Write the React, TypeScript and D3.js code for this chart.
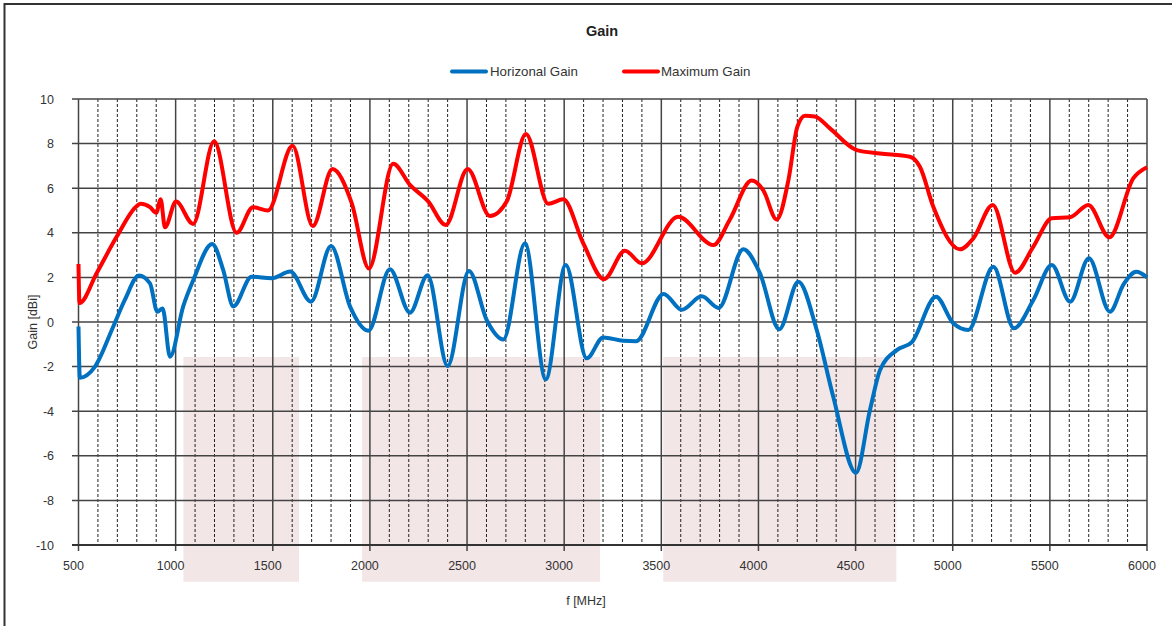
import React from 'react';
import * as d3 from 'd3';

// Horizontal gain (blue) - frequency [MHz] / gain [dBi]
const horizFreq = [500, 507, 585, 679, 739, 811, 868, 906, 933, 971, 1039, 1091, 1188, 1245, 1297, 1391, 1494, 1590, 1697, 1800, 1898, 1992, 2103, 2206, 2297, 2400, 2510, 2601, 2687, 2798, 2905, 3008, 3116, 3201, 3304, 3370, 3512, 3605, 3708, 3795, 3922, 4008, 4107, 4205, 4300, 4385, 4502, 4574, 4626, 4712, 4790, 4914, 5003, 5080, 5209, 5315, 5415, 5510, 5604, 5701, 5809, 5880, 5945, 6000];
const horizGain = [-0.2, -2.5, -2.0, -0.2, 1.0, 2.08, 1.73, 0.46, 0.61, -1.56, 0.7, 1.88, 3.5, 2.33, 0.7, 2.03, 1.96, 2.26, 0.91, 3.41, 0.69, -0.39, 2.37, 0.42, 2.1, -1.97, 2.29, 0.09, -0.78, 3.53, -2.57, 2.56, -1.63, -0.69, -0.84, -0.86, 1.26, 0.55, 1.15, 0.63, 3.26, 2.18, -0.33, 1.81, -0.36, -3.35, -6.76, -3.95, -2.15, -1.26, -0.9, 1.13, -0.06, -0.36, 2.48, -0.28, 0.99, 2.56, 0.91, 2.86, 0.46, 1.7, 2.25, 2.0];

// Maximum gain (red)
const maxFreq = [500, 505, 594, 697, 800, 820, 868, 900, 923, 945, 1002, 1090, 1198, 1314, 1398, 1475, 1602, 1706, 1807, 1906, 1995, 2120, 2206, 2301, 2390, 2503, 2618, 2704, 2803, 2918, 2995, 3098, 3205, 3313, 3399, 3587, 3768, 3853, 3965, 4025, 4094, 4155, 4200, 4240, 4290, 4368, 4506, 4626, 4780, 4831, 4900, 5037, 5106, 5206, 5321, 5415, 5510, 5604, 5698, 5806, 5930, 6000];
const maxGain = [2.6, 0.85, 2.2, 3.83, 5.2, 5.3, 5.15, 4.9, 5.5, 4.25, 5.4, 4.4, 8.1, 4.0, 5.15, 5.0, 7.9, 4.3, 6.86, 5.34, 2.4, 7.1, 6.15, 5.4, 4.35, 6.86, 4.75, 5.4, 8.43, 5.3, 5.5, 3.53, 1.92, 3.2, 2.63, 4.72, 3.45, 4.6, 6.34, 5.9, 4.6, 6.4, 8.75, 9.25, 9.22, 8.68, 7.71, 7.56, 7.41, 6.96, 5.17, 3.26, 3.75, 5.25, 2.21, 3.38, 4.65, 4.7, 5.25, 3.8, 6.45, 6.94];

// shaded frequency bands [MHz]
const bandStart = [1040, 1960, 3510];
const bandEnd = [1635, 3185, 4710];
const bandTop = -1.57;
const bandBottom = -11.65;

const xTicks = [500, 1000, 1500, 2000, 2500, 3000, 3500, 4000, 4500, 5000, 5500, 6000];
const yTicks = [10, 8, 6, 4, 2, 0, -2, -4, -6, -8, -10];

const FONT = '"Liberation Sans", Arial, sans-serif';

export default function App() {
  const x = d3.scaleLinear().domain([500, 6000]).range([78.5, 1147]);
  const y = d3.scaleLinear().domain([-10, 10]).range([545, 99]);

  const minor = d3.range(600, 6000, 100).filter(f => f % 500 !== 0);

  const line = d3
    .line<[number, number]>()
    .x(d => x(d[0]))
    .y(d => y(d[1]))
    .curve(d3.curveMonotoneX);

  const horiz = horizFreq.map((f, i) => [f, horizGain[i]] as [number, number]);
  const maxi = maxFreq.map((f, i) => [f, maxGain[i]] as [number, number]);

  return (
    <>
      <style>{`body{margin:0}`}</style>
      <svg width={1172} height={626} style={{ display: 'block', fontFamily: FONT }}>
        <rect x={0} y={0} width={1172} height={626} fill="#fff" />
        <rect x={4.5} y={4} width={1180} height={640} fill="none" stroke="#333" strokeWidth={2} />

        {bandStart.map((b, i) => (
          <rect
            key={'band' + i}
            x={x(b)}
            y={y(bandTop)}
            width={x(bandEnd[i]) - x(b)}
            height={y(bandBottom) - y(bandTop)}
            fill="#f3e6e7"
          />
        ))}

        {minor.map(f => (
          <line key={'m' + f} x1={x(f)} x2={x(f)} y1={99} y2={545} stroke="#222" strokeWidth={1} strokeDasharray="3,2" />
        ))}
        {xTicks.map(f => (
          <line key={'xv' + f} x1={x(f)} x2={x(f)} y1={99} y2={551} stroke="#444" strokeWidth={1.5} />
        ))}
        {yTicks.map(v => (
          <line key={'yh' + v} x1={72} x2={1147} y1={y(v)} y2={y(v)} stroke="#444" strokeWidth={1.5} />
        ))}
        <line x1={72} x2={1147} y1={545} y2={545} stroke="#333" strokeWidth={2} />

        {yTicks.map(v => (
          <text key={'yl' + v} x={54} y={y(v) + 4.5} textAnchor="end" fontSize={12.5} fill="#333">
            {v}
          </text>
        ))}
        {xTicks.map(f => (
          <text key={'xl' + f} x={x(f) - 5} y={570} textAnchor="middle" fontSize={12.5} fill="#333">
            {f}
          </text>
        ))}

        <path d={line(maxi) || ''} fill="none" stroke="#ff0000" strokeWidth={4} strokeLinejoin="round" />
        <path d={line(horiz) || ''} fill="none" stroke="#0070c0" strokeWidth={4} strokeLinejoin="round" />

        <text x={602} y={36} textAnchor="middle" fontSize={14.5} fontWeight="bold" fill="#222">
          Gain
        </text>

        <line x1={452} x2={486} y1={71.5} y2={71.5} stroke="#0070c0" strokeWidth={4} strokeLinecap="round" />
        <text x={490} y={76} fontSize={13.3} fill="#333">Horizonal Gain</text>
        <line x1={624} x2={658} y1={71.5} y2={71.5} stroke="#ff0000" strokeWidth={4} strokeLinecap="round" />
        <text x={661} y={76} fontSize={13.3} fill="#333">Maximum Gain</text>

        <text transform="translate(37,322) rotate(-90)" textAnchor="middle" fontSize={12.5} fill="#333">
          Gain [dBi]
        </text>
        <text x={586} y={605} textAnchor="middle" fontSize={12.5} fill="#333">
          f [MHz]
        </text>
      </svg>
    </>
  );
}
